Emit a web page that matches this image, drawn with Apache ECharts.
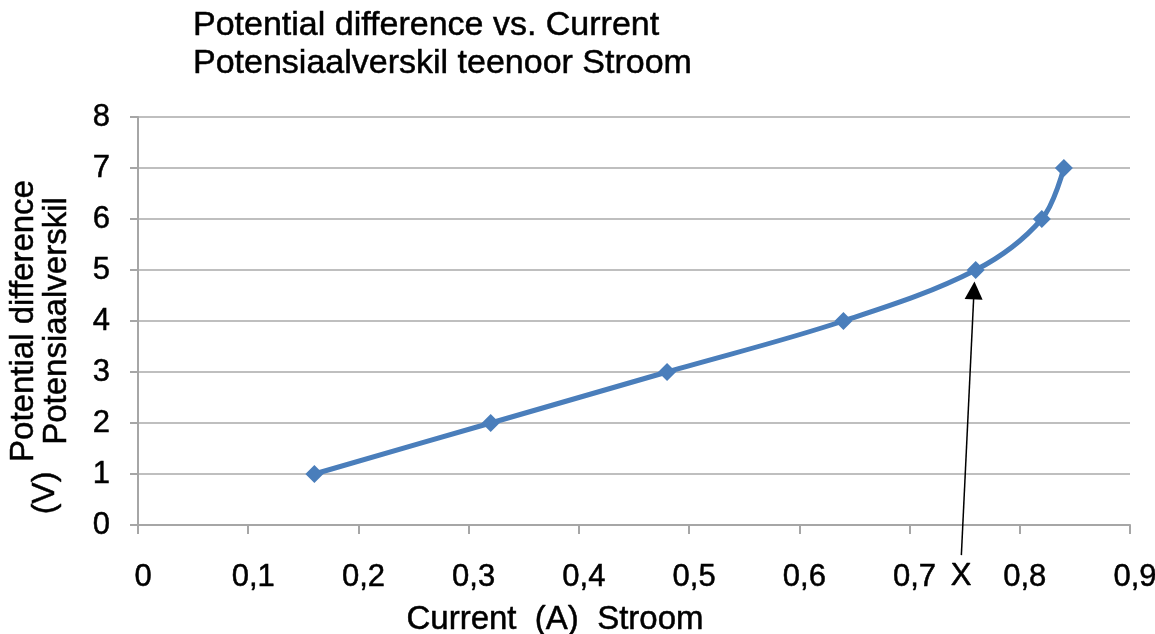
<!DOCTYPE html>
<html>
<head>
<meta charset="utf-8">
<script src="https://cdn.jsdelivr.net/npm/echarts@6/dist/echarts.min.js"></script>
<style>html,body{margin:0;padding:0;background:#fff}#c{width:1155px;height:634px}</style>
</head>
<body>
<div id="c"></div>
<script>
const titleLines = ['Potential difference vs. Current', 'Potensiaalverskil teenoor Stroom'];
const xAxisName = 'Current  (A)  Stroom';
const yAxisName = 'Potential difference\nPotensiaalverskil';
const yAxisUnit = '(V)';
const current = [0.16, 0.32, 0.48, 0.64, 0.76, 0.82, 0.84];
const voltage = [1, 2, 3, 4, 5, 6, 7];
const arrowFrom = [0.747, -0.59];
const arrowTo = [0.7585, 4.6];
const arrowLabel = 'X';

const FONT = '"Liberation Sans", Arial, sans-serif';
const thick = {textBorderColor: '#000', textBorderWidth: 0.5};
const chart = echarts.init(document.getElementById('c'), null, {renderer: 'canvas'});
chart.setOption({
  animation: false,
  backgroundColor: '#ffffff',
  title: {
    text: titleLines.join('\n'),
    left: 188, top: 2,
    textStyle: Object.assign({fontFamily: FONT, fontSize: 34, fontWeight: 'normal', color: '#000', lineHeight: 38}, thick)
  },
  grid: {left: 138, right: 25, top: 117, bottom: 109, containLabel: false, outerBoundsMode: 'none'},
  xAxis: {
    type: 'value', min: 0, max: 0.9, interval: 0.1,
    name: xAxisName, nameLocation: 'middle', nameGap: 78,
    nameTextStyle: Object.assign({fontFamily: FONT, fontSize: 33, color: '#000', padding: [0, 158, 0, 0]}, thick),
    axisLine: {show: true, lineStyle: {color: '#a6a6a6', width: 2}},
    axisTick: {show: true, length: 9, lineStyle: {color: '#a6a6a6', width: 2}},
    splitLine: {show: false},
    axisLabel: Object.assign({
      fontFamily: FONT, fontSize: 31, color: '#000', margin: 37, padding: [0, 0, 0, 10],
      formatter: v => (Math.round(v * 10) / 10).toString().replace('.', ',')
    }, thick)
  },
  yAxis: {
    type: 'value', min: 0, max: 8, interval: 1,
    name: yAxisName, nameLocation: 'middle', nameGap: 65,
    nameTextStyle: Object.assign({fontFamily: FONT, fontSize: 33, color: '#000', lineHeight: 33}, thick),
    axisLine: {show: true, lineStyle: {color: '#a6a6a6', width: 2}},
    axisTick: {show: true, length: 8, lineStyle: {color: '#a6a6a6', width: 2}},
    splitLine: {show: true, lineStyle: {color: '#bfbfbf', width: 2}},
    axisLabel: Object.assign({fontFamily: FONT, fontSize: 31, color: '#000', margin: 28}, thick)
  },
  graphic: [{
    type: 'text', x: 45, y: 493, rotation: Math.PI / 2,
    style: {text: yAxisUnit, fontFamily: FONT, fontSize: 32, fill: '#000', align: 'center', verticalAlign: 'middle', stroke: '#000', lineWidth: 0.5}
  }],
  series: [{
    type: 'line',
    data: current.map((x, i) => [x, voltage[i]]),
    smooth: 0.35,
    symbol: 'diamond', symbolSize: 18,
    lineStyle: {color: '#4a7ebb', width: 5},
    itemStyle: {color: '#4a7ebb'},
    z: 3
  }, {
    type: 'lines',
    coordinateSystem: 'cartesian2d',
    clip: false,
    silent: true,
    symbol: ['none', 'triangle'],
    symbolSize: [14, 18],
    lineStyle: {color: '#000', width: 1.5, opacity: 1, curveness: 0},
    label: Object.assign({show: true, position: 'start', formatter: arrowLabel, fontFamily: FONT, fontSize: 31, color: '#000', distance: 6}, thick),
    data: [{coords: [arrowFrom, arrowTo]}],
    z: 4
  }]
});
</script>
</body>
</html>
